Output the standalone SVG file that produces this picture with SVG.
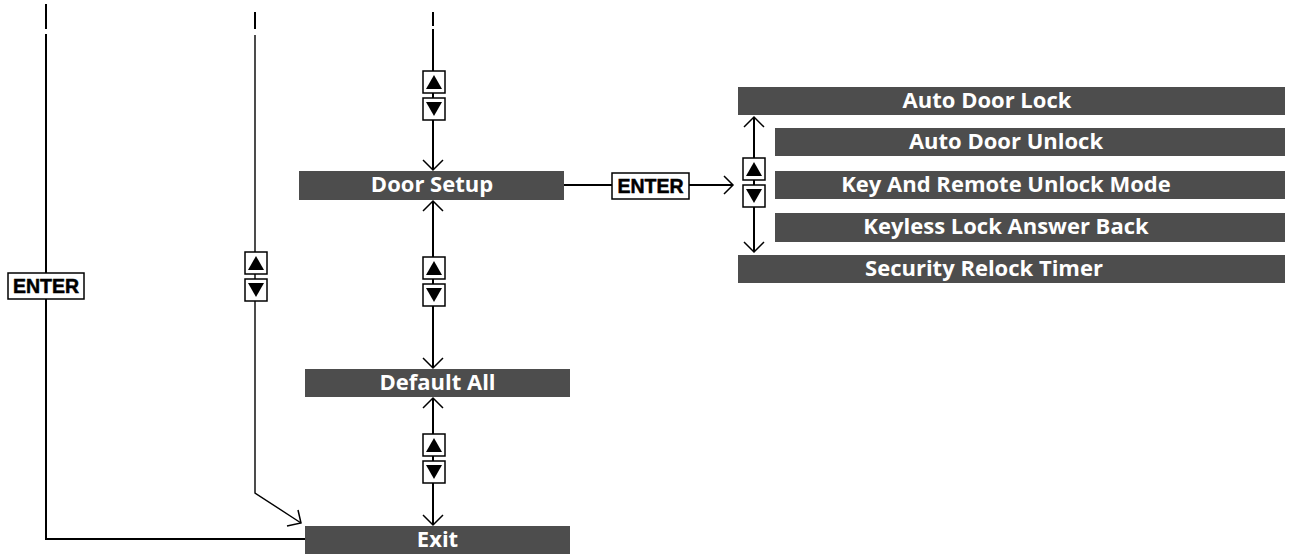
<svg xmlns="http://www.w3.org/2000/svg" xmlns:xlink="http://www.w3.org/1999/xlink" width="1291" height="555" viewBox="0 0 1291 555">
<style>
.bar{fill:#4d4d4d}
.lbl{fill:#fff;font-family:"Open Sans","Noto Sans","DejaVu Sans",sans-serif;font-weight:700;font-size:22px;text-anchor:middle}
.ln{stroke:#000;stroke-width:2;fill:none}
.thin{stroke:#000;stroke-width:1.4;fill:none}
.ah{stroke:#000;stroke-width:1.5;fill:none}
.key{fill:#fff;stroke:#000;stroke-width:1.5}
.keytxt{fill:#000;stroke:#000;stroke-width:0.5;font-family:"Liberation Sans","Arial",sans-serif;font-weight:700;font-size:19.5px;text-anchor:middle}
</style>
<defs>
<g id="updown">
<rect class="key" x="-11" y="0" width="22" height="22"/>
<path d="M-8,18 L8,18 L0,4 Z" fill="#000"/>
<rect class="key" x="-11" y="27" width="22" height="22"/>
<path d="M-8,31 L8,31 L0,45 Z" fill="#000"/>
</g>
</defs>
<rect width="1291" height="555" fill="#fff"/>

<g id="connectors">
<path class="ln" d="M46,4 V29"/>
<path class="ln" d="M46,34 V539 H305"/>
<path class="ln" d="M255,12 V29"/>
<path class="thin" d="M255,35 V493 L301,523"/>
<path class="ah" d="M287,526 L301,523 L298,510"/>
<path class="ln" d="M433,12 V26"/>
<path class="ln" d="M433,29 V170"/>
<path class="ah" d="M423,160 L433,170 L443,160"/>
<path class="ln" d="M433,201 V368"/>
<path class="ah" d="M423,211 L433,201 L443,211"/>
<path class="ah" d="M423,358 L433,368 L443,358"/>
<path class="ln" d="M433,398 V525"/>
<path class="ah" d="M423,408 L433,398 L443,408"/>
<path class="ah" d="M423,515 L433,525 L443,515"/>
<path class="ln" d="M564,185 H612"/>
<path class="ln" d="M689,185 H733"/>
<path class="ah" d="M724,176 L733,185 L724,194"/>
<path class="ln" d="M754,117 V252"/>
<path class="ah" d="M744,127 L754,117 L764,127"/>
<path class="ah" d="M744,242 L754,252 L764,242"/>
</g>

<g id="key-enter-left">
<rect class="key" x="8" y="273" width="76" height="26"/>
<text class="keytxt" x="46" y="293">ENTER</text>
</g>
<g id="key-enter-right">
<rect class="key" x="612" y="173" width="77" height="26"/>
<text class="keytxt" x="650.5" y="193">ENTER</text>
</g>

<g id="updown-top"><use xlink:href="#updown" x="434" y="71"/></g>
<g id="updown-left"><use xlink:href="#updown" x="256" y="252"/></g>
<g id="updown-mid"><use xlink:href="#updown" x="434" y="257"/></g>
<g id="updown-bottom"><use xlink:href="#updown" x="434" y="434"/></g>
<g id="updown-sub"><use xlink:href="#updown" x="754" y="158"/></g>

<g id="door-setup">
<rect class="bar" x="299" y="171" width="265" height="29"/>
<text class="lbl" x="432" y="192">Door Setup</text>
</g>
<g id="default-all">
<rect class="bar" x="305" y="369" width="265" height="28"/>
<text class="lbl" x="437.5" y="390">Default All</text>
</g>
<g id="exit">
<rect class="bar" x="305" y="526" width="265" height="28"/>
<text class="lbl" x="437.5" y="547">Exit</text>
</g>

<g id="auto-door-lock">
<rect class="bar" x="738" y="87" width="547" height="28"/>
<text class="lbl" x="987" y="108">Auto Door Lock</text>
</g>
<g id="auto-door-unlock">
<rect class="bar" x="775" y="128" width="510" height="28"/>
<text class="lbl" x="1006" y="149">Auto Door Unlock</text>
</g>
<g id="key-remote-unlock">
<rect class="bar" x="775" y="171" width="510" height="28"/>
<text class="lbl" x="1006" y="192">Key And Remote Unlock Mode</text>
</g>
<g id="keyless-answer-back">
<rect class="bar" x="775" y="213" width="510" height="29"/>
<text class="lbl" x="1006" y="234">Keyless Lock Answer Back</text>
</g>
<g id="security-relock">
<rect class="bar" x="738" y="255" width="547" height="28"/>
<text class="lbl" x="984" y="276">Security Relock Timer</text>
</g>
</svg>
